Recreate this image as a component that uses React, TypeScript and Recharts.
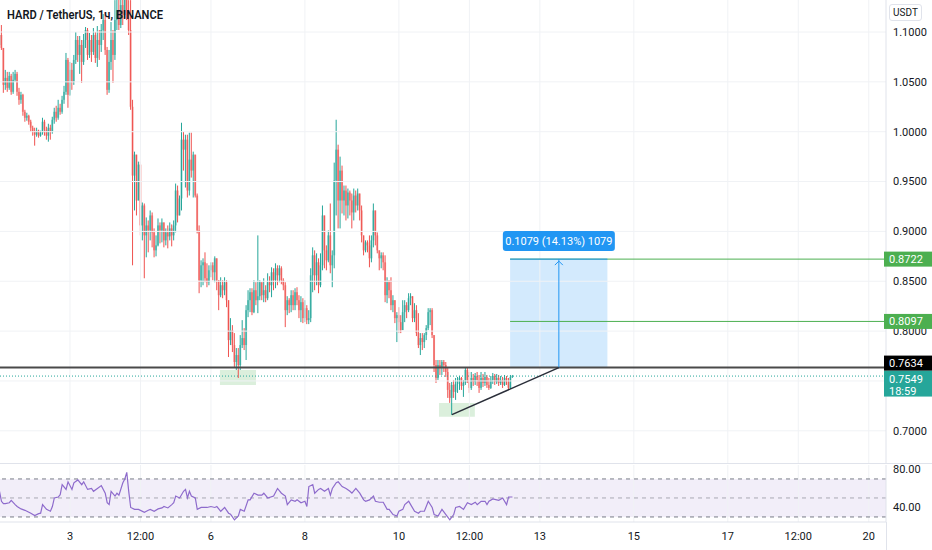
import React from 'react';
import {
  Bar,
  ComposedChart,
  Line,
  LineChart,
  ReferenceArea,
  ReferenceDot,
  ReferenceLine,
  XAxis,
  YAxis,
} from 'recharts';

const FONT = 'Roboto, "Noto Sans", sans-serif';
const UP = '#26a69a';
const DOWN = '#ef5350';
const TEXT = '#131722';
const GRID = '#f0f2f5';
const BORDER = '#e0e3eb';

// x is in hours counted from the 3rd 00:00; the first visible 1h candle opens on the 1st at 12:00
const FIRST_HOUR = -36;
const FIRST_OPEN = 1.087;

const closes = [
  1.097, 1.084, 1.047, 1.054, 1.044, 1.056, 1.04, 1.052, 1.058, 1.04,
  1.032, 1.037, 1.02, 1.014, 1.016, 1.01, 1.004, 1.0, 0.997, 1.001,
  0.996, 0.999, 1.01, 1.002, 0.996, 1.004, 1.0, 1.012, 1.02, 1.014,
  1.024, 1.02, 1.032, 1.04, 1.072, 1.037, 1.062, 1.05, 1.072, 1.092,
  1.077, 1.087, 1.07, 1.092, 1.102, 1.077, 1.092, 1.08, 1.097, 1.074,
  1.092, 1.087, 1.102, 1.112, 1.082, 1.042, 1.07, 1.092, 1.077, 1.112,
  1.122, 1.107, 1.127, 1.117, 1.137, 1.122, 1.102, 1.025, 0.956, 0.977,
  0.931, 0.967, 0.906, 0.926, 0.896, 0.906, 0.901, 0.916, 0.899, 0.881,
  0.886, 0.906, 0.901, 0.909, 0.891, 0.899, 0.895, 0.903, 0.896, 0.906,
  0.941, 0.916, 0.933, 0.992, 0.982, 0.992, 0.941, 0.972, 0.961, 0.977,
  0.936, 0.901, 0.851, 0.866, 0.869, 0.853, 0.849, 0.861, 0.866, 0.859,
  0.873, 0.851, 0.836, 0.846, 0.841, 0.849, 0.831, 0.791, 0.801, 0.786,
  0.769, 0.776, 0.766, 0.786, 0.793, 0.786, 0.821, 0.831, 0.839, 0.819,
  0.841, 0.831, 0.835, 0.849, 0.836, 0.841, 0.833, 0.849, 0.846, 0.859,
  0.851, 0.863, 0.856, 0.863, 0.851, 0.846, 0.821, 0.831, 0.826, 0.836,
  0.826, 0.839, 0.831, 0.821, 0.829, 0.813, 0.823, 0.811, 0.813, 0.856,
  0.876, 0.856, 0.869, 0.846, 0.866, 0.916, 0.881, 0.871, 0.896, 0.866,
  0.876, 0.951, 0.982, 0.931, 0.961, 0.931, 0.941, 0.926, 0.939, 0.931,
  0.919, 0.936, 0.926, 0.938, 0.921, 0.896, 0.881, 0.889, 0.886, 0.873,
  0.891, 0.921, 0.896, 0.881, 0.873, 0.876, 0.869, 0.836, 0.849, 0.841,
  0.826, 0.831, 0.813, 0.816, 0.809, 0.801, 0.819, 0.826, 0.821, 0.833,
  0.835, 0.813, 0.821, 0.798, 0.786, 0.793, 0.789, 0.796, 0.803, 0.819,
  0.821, 0.796, 0.766, 0.753, 0.766, 0.763, 0.769, 0.766, 0.759, 0.741,
  0.733, 0.746, 0.739, 0.747, 0.75, 0.753, 0.745, 0.748, 0.761, 0.751,
  0.743, 0.753, 0.749, 0.755, 0.751, 0.743, 0.753, 0.748, 0.754, 0.746,
  0.743, 0.751, 0.755, 0.749, 0.753, 0.748, 0.751, 0.746, 0.753, 0.749,
  0.743, 0.754, 0.7549,
];

const highs = [
  1.099, 1.107, 1.084, 1.062, 1.06, 1.06, 1.058, 1.06, 1.062, 1.06,
  1.044, 1.04, 1.038, 1.022, 1.019, 1.017, 1.012, 1.006, 1.004, 1.004,
  1.002, 1.001, 1.014, 1.012, 1.005, 1.008, 1.007, 1.015, 1.024, 1.026,
  1.032, 1.028, 1.036, 1.046, 1.079, 1.074, 1.07, 1.069, 1.077, 1.1,
  1.096, 1.096, 1.092, 1.098, 1.105, 1.104, 1.099, 1.097, 1.104, 1.1,
  1.106, 1.102, 1.108, 1.118, 1.12, 1.085, 1.082, 1.11, 1.102, 1.132,
  1.142, 1.137, 1.147, 1.137, 1.152, 1.142, 1.132, 1.132, 1.032, 0.98,
  0.969, 0.97, 0.97, 0.929, 0.928, 0.914, 0.911, 0.921, 0.919, 0.903,
  0.896, 0.913, 0.909, 0.913, 0.903, 0.903, 0.906, 0.909, 0.907, 0.911,
  0.948, 0.946, 0.936, 1.009, 1.0, 0.997, 0.997, 0.999, 0.999, 0.98,
  0.959, 0.938, 0.906, 0.871, 0.873, 0.879, 0.868, 0.866, 0.869, 0.869,
  0.875, 0.873, 0.851, 0.854, 0.851, 0.854, 0.851, 0.831, 0.813, 0.806,
  0.798, 0.783, 0.783, 0.796, 0.811, 0.803, 0.826, 0.841, 0.843, 0.843,
  0.851, 0.849, 0.896, 0.851, 0.848, 0.853, 0.846, 0.858, 0.855, 0.864,
  0.863, 0.868, 0.866, 0.866, 0.865, 0.853, 0.849, 0.835, 0.833, 0.841,
  0.841, 0.843, 0.844, 0.836, 0.835, 0.833, 0.831, 0.826, 0.821, 0.863,
  0.884, 0.881, 0.878, 0.873, 0.878, 0.926, 0.889, 0.886, 0.901, 0.928,
  0.881, 0.969, 1.012, 0.987, 0.975, 0.966, 0.946, 0.946, 0.943, 0.941,
  0.938, 0.943, 0.941, 0.943, 0.936, 0.926, 0.896, 0.891, 0.891, 0.896,
  0.896, 0.928, 0.914, 0.899, 0.881, 0.879, 0.879, 0.876, 0.854, 0.851,
  0.854, 0.836, 0.831, 0.819, 0.824, 0.816, 0.831, 0.831, 0.829, 0.838,
  0.838, 0.835, 0.828, 0.826, 0.818, 0.798, 0.798, 0.798, 0.806, 0.823,
  0.823, 0.823, 0.796, 0.771, 0.771, 0.771, 0.771, 0.771, 0.769, 0.764,
  0.748, 0.749, 0.751, 0.753, 0.754, 0.755, 0.754, 0.751, 0.764, 0.763,
  0.759, 0.759, 0.757, 0.758, 0.759, 0.756, 0.759, 0.757, 0.759, 0.756,
  0.753, 0.755, 0.758, 0.757, 0.757, 0.756, 0.755, 0.754, 0.756, 0.755,
  0.753, 0.756, 0.756,
];

const lows = [
  1.085, 1.082, 1.039, 1.042, 1.04, 1.042, 1.037, 1.038, 1.05, 1.036,
  1.027, 1.028, 1.016, 1.01, 1.011, 1.007, 1.0, 0.996, 0.986, 0.995,
  0.994, 0.995, 0.997, 0.996, 0.992, 0.99, 0.992, 0.998, 1.008, 1.01,
  1.012, 1.017, 1.018, 1.028, 1.037, 1.024, 1.036, 1.042, 1.047, 1.068,
  1.07, 1.058, 1.049, 1.067, 1.084, 1.072, 1.074, 1.07, 1.077, 1.069,
  1.065, 1.072, 1.08, 1.092, 1.077, 1.037, 1.039, 1.062, 1.049, 1.072,
  1.102, 1.102, 1.104, 1.107, 1.114, 1.112, 1.097, 1.022, 0.866, 0.921,
  0.916, 0.931, 0.896, 0.891, 0.853, 0.874, 0.879, 0.891, 0.884, 0.874,
  0.875, 0.885, 0.888, 0.889, 0.884, 0.886, 0.883, 0.891, 0.885, 0.891,
  0.899, 0.909, 0.918, 0.921, 0.961, 0.944, 0.934, 0.936, 0.954, 0.934,
  0.934, 0.898, 0.838, 0.844, 0.846, 0.849, 0.844, 0.846, 0.854, 0.851,
  0.849, 0.841, 0.821, 0.834, 0.833, 0.836, 0.824, 0.774, 0.786, 0.779,
  0.764, 0.761, 0.753, 0.761, 0.783, 0.781, 0.771, 0.814, 0.819, 0.816,
  0.818, 0.826, 0.818, 0.831, 0.831, 0.829, 0.829, 0.831, 0.839, 0.834,
  0.841, 0.843, 0.846, 0.849, 0.847, 0.841, 0.804, 0.816, 0.818, 0.819,
  0.821, 0.821, 0.826, 0.813, 0.809, 0.808, 0.809, 0.807, 0.807, 0.809,
  0.839, 0.841, 0.846, 0.838, 0.844, 0.861, 0.863, 0.861, 0.869, 0.858,
  0.844, 0.863, 0.916, 0.903, 0.903, 0.918, 0.916, 0.911, 0.913, 0.916,
  0.903, 0.911, 0.919, 0.921, 0.911, 0.889, 0.876, 0.879, 0.879, 0.864,
  0.869, 0.884, 0.886, 0.878, 0.861, 0.863, 0.861, 0.829, 0.828, 0.833,
  0.821, 0.819, 0.808, 0.789, 0.798, 0.798, 0.801, 0.809, 0.813, 0.819,
  0.826, 0.809, 0.809, 0.795, 0.783, 0.776, 0.781, 0.783, 0.791, 0.801,
  0.806, 0.793, 0.759, 0.748, 0.751, 0.756, 0.756, 0.759, 0.754, 0.733,
  0.728, 0.716, 0.733, 0.731, 0.738, 0.741, 0.741, 0.734, 0.746, 0.748,
  0.738, 0.741, 0.745, 0.746, 0.745, 0.738, 0.741, 0.744, 0.745, 0.743,
  0.741, 0.742, 0.747, 0.746, 0.747, 0.745, 0.746, 0.743, 0.745, 0.746,
  0.741, 0.742, 0.753,
];

const rsiIdx = [
  0, 1, 2, 3, 5, 6, 8, 9, 11, 13, 15, 16, 18, 20, 21, 22, 24, 26, 27, 28,
  30, 31, 32, 34, 35, 37, 38, 40, 42, 43, 45, 47, 48, 50, 52, 54, 55, 56, 57, 59,
  60, 61, 63, 64, 65, 66, 67, 69, 71, 74, 76, 77, 79, 81, 83, 84, 86, 88, 89, 90,
  92, 94, 95, 96, 97, 98, 100, 101, 103, 106, 108, 110, 111, 113, 115, 117, 118, 120, 122, 123,
  125, 127, 128, 130, 132, 134, 135, 137, 140, 142, 144, 146, 147, 149, 151, 152, 154, 156, 157, 158,
  160, 161, 163, 164, 166, 168, 169, 170, 172, 173, 175, 177, 179, 180, 182, 184, 186, 187, 189, 191,
  192, 194, 196, 198, 199, 201, 203, 204, 206, 207, 209, 210, 212, 214, 215, 217, 219, 221, 222, 224,
  226, 228, 230, 232, 233, 235, 237, 239, 241, 243, 244, 246, 248, 249, 250, 252, 254, 255, 257, 259,
  260, 262,
];
const rsiVal = [
  57, 46.5, 44, 44, 45, 47.5, 43, 41, 38.5, 37, 35, 34, 31.5, 33.5, 34, 43, 38, 36, 41, 50,
  51, 53.5, 64, 59, 67, 59, 66, 69, 64, 67, 59, 60, 57, 60, 63, 55, 45, 43, 57, 52,
  55, 53, 66, 70, 77, 57, 40, 38, 38, 35, 37, 38, 36, 38.5, 39.5, 41, 39.5, 43, 45, 52,
  50, 57, 59, 50, 57, 52, 50, 38, 40, 40, 41, 40, 41, 36, 40, 34, 33, 27, 31, 38,
  36, 48, 48, 55, 53, 53, 55, 50, 52, 60, 55, 52, 43, 48, 46.5, 48, 45, 46.5, 41, 62,
  64, 55, 59, 60, 57, 60, 53, 60, 66, 67, 62, 60, 57, 55, 60, 55, 48, 46.5, 48, 52,
  46.5, 45.5, 45.5, 38, 38, 32.5, 31, 36, 38, 43, 46.5, 43, 36, 34, 36, 36, 46.5, 40, 32.5, 31,
  38, 32.5, 27, 32.5, 40, 41, 38, 45, 43, 45.5, 43, 46.5, 46.5, 43, 46.5, 49, 48, 47.5, 50, 43,
  51, 51,
];

const timeTicks = [0, 36, 72, 120, 168, 204, 240, 288, 336, 372, 408];
const timeLabels = ['3', '12:00', '6', '8', '10', '12:00', '13', '15', '17', '12:00', '20'];
const priceTicks = [0.7, 0.8, 0.85, 0.9, 0.95, 1.0, 1.05, 1.1];
const priceGrid = [0.7, 0.75, 0.8, 0.85, 0.9, 0.95, 1.0, 1.05, 1.1];

const TARGET = 0.8722;
const TARGET_2 = 0.8097;
const ENTRY = 0.7634;
const LAST = 0.7549;
const BOX_FROM = 224.8;
const BOX_TO = 274.5;
const ARROW_AT = 249.7;
const TREND_START = { x: 195.1, y: 0.7162 };
const ZONE_1 = { x1: 76.6, x2: 95, y1: 0.746, y2: 0.761 };
const ZONE_2 = { x1: 188.5, x2: 206.8, y1: 0.714, y2: 0.728 };

const X_DOMAIN: [number, number] = [-35.75, 416.8];
const PRICE_DOMAIN: [number, number] = [0.6677, 1.1321];
const RSI_DOMAIN: [number, number] = [24.7, 84.7];

const tags = [
  { value: TARGET, bg: '#4caf50', shift: 0 },
  { value: TARGET_2, bg: '#4caf50', shift: 0 },
  { value: ENTRY, bg: '#000000', shift: -4.5 },
  { value: LAST, bg: UP, shift: 0, sub: '18:59' },
];

const candles = closes.map((close, i) => {
  const open = i ? closes[i - 1] : FIRST_OPEN;
  const hi = Math.max(highs[i], open, close);
  const lo = Math.min(lows[i], open, close);
  return { h: FIRST_HOUR + i, open, close, hi, lo, range: [lo, hi] };
});

const rsiData = rsiIdx.map((idx, i) => ({ h: FIRST_HOUR + idx, rsi: rsiVal[i] }));

function Candle(props: any) {
  const { x, y, width, height, payload } = props;
  if (!payload || x == null || y == null) return null;
  const top = Math.min(y, y + height);
  const span = Math.abs(height);
  const { open, close, hi, lo } = payload;
  const toY = (v: number) => top + (hi === lo ? 0 : ((hi - v) / (hi - lo)) * span);
  const cx = x + width / 2;
  const color = close >= open ? UP : DOWN;
  const b1 = toY(Math.max(open, close));
  const b2 = toY(Math.min(open, close));
  return (
    <g>
      <rect x={cx - 1} y={b1} width={2} height={Math.max(b2 - b1, 1)} fill={color} fillOpacity={0.55} />
      <rect x={cx - 0.5} y={top} width={1} height={Math.max(span, 1)} fill={color} />
    </g>
  );
}

function PriceTick(props: any) {
  const { x, y, payload } = props;
  const v = payload.value as number;
  const tag = tags.find((t) => Math.abs(t.value - v) < 1e-9);
  if (!tag) {
    return (
      <text x={x} y={y} dy="0.35em" fill={TEXT} fontSize={11}>
        {v.toFixed(4)}
      </text>
    );
  }
  const cy = y + tag.shift;
  if (tag.sub) {
    return (
      <g>
        <rect x={x - 9} y={cy - 5.5} width={48} height={26} fill={tag.bg} />
        <text x={x - 4} y={cy + 3} dy="0.35em" fill="#fff" fontSize={11}>
          {v.toFixed(4)}
        </text>
        <text x={x - 4} y={cy + 15} dy="0.35em" fill="#fff" fontSize={11}>
          {tag.sub}
        </text>
      </g>
    );
  }
  return (
    <g>
      <rect x={x - 9} y={cy - 7.5} width={48} height={15} fill={tag.bg} />
      <text x={x - 4} y={cy} dy="0.35em" fill="#fff" fontSize={11}>
        {v.toFixed(4)}
      </text>
    </g>
  );
}

function MeasureMark(props: any) {
  const { cx, cy } = props;
  if (cx == null || cy == null) return null;
  return (
    <g>
      <polyline
        points={`${cx - 4},${cy + 6} ${cx},${cy + 2} ${cx + 4},${cy + 6}`}
        fill="none"
        stroke="#2196f3"
        strokeWidth={1}
      />
      <rect x={cx - 56} y={cy - 28} width={112} height={20} rx={3} fill="#2196f3" />
      <text x={cx} y={cy - 18} dy="0.35em" textAnchor="middle" fill="#fff" fontSize={11}>
        0.1079 (14.13%) 1079
      </text>
    </g>
  );
}

export default function App() {
  return (
    <div
      style={{
        position: 'fixed',
        left: 0,
        top: 0,
        width: 932,
        height: 550,
        background: '#fff',
        fontFamily: FONT,
        overflow: 'hidden',
      }}
    >
      <div style={{ position: 'absolute', left: 0, top: 0 }}>
        <ComposedChart
          width={932}
          height={463}
          data={candles}
          margin={{ top: 0, right: 0, bottom: 0, left: 0 }}
        >
          <XAxis type="number" dataKey="h" domain={X_DOMAIN} allowDataOverflow hide />
          <YAxis
            orientation="right"
            width={46}
            type="number"
            domain={PRICE_DOMAIN}
            allowDataOverflow
            ticks={[...priceTicks, LAST, ENTRY, TARGET_2, TARGET]}
            interval={0}
            tickLine={false}
            tickSize={6}
            tickMargin={1}
            axisLine={{ stroke: BORDER }}
            tick={<PriceTick />}
          />
          {timeTicks.map((t) => (
            <ReferenceLine key={`v${t}`} x={t} stroke={GRID} />
          ))}
          {priceGrid.map((p) => (
            <ReferenceLine key={`h${p}`} y={p} stroke={GRID} />
          ))}
          <ReferenceArea {...ZONE_1} fill="#4caf50" fillOpacity={0.2} />
          <ReferenceArea {...ZONE_2} fill="#4caf50" fillOpacity={0.2} />
          <ReferenceArea x1={BOX_FROM} x2={BOX_TO} y1={ENTRY} y2={TARGET} fill="#2196f3" fillOpacity={0.2} />
          <Bar
            dataKey="range"
            barSize={2}
            isAnimationActive={false}
            shape={(p: any) => <Candle {...p} />}
          />
          <ReferenceLine y={LAST} stroke={UP} strokeDasharray="1 2" />
          <ReferenceLine y={ENTRY} stroke="#4a4a4a" strokeWidth={2} />
          <ReferenceLine
            segment={[{ x: BOX_FROM, y: TARGET }, { x: X_DOMAIN[1], y: TARGET }]}
            stroke="#4caf50"
          />
          <ReferenceLine
            segment={[{ x: BOX_FROM, y: TARGET_2 }, { x: X_DOMAIN[1], y: TARGET_2 }]}
            stroke="#4caf50"
          />
          <ReferenceLine
            segment={[{ x: BOX_FROM, y: TARGET }, { x: BOX_TO, y: TARGET }]}
            stroke="#2196f3"
          />
          <ReferenceLine
            segment={[{ x: ARROW_AT, y: ENTRY }, { x: ARROW_AT, y: TARGET }]}
            stroke="#2196f3"
          />
          <ReferenceLine
            segment={[TREND_START, { x: ARROW_AT, y: ENTRY }]}
            stroke="#2a2e39"
            strokeWidth={1.5}
          />
          <ReferenceDot x={ARROW_AT} y={TARGET} r={0} shape={(p: any) => <MeasureMark {...p} />} />
        </ComposedChart>
      </div>

      <div style={{ position: 'absolute', left: 0, top: 463, width: 932, height: 1, background: BORDER }} />

      <div style={{ position: 'absolute', left: 0, top: 464 }}>
        <LineChart width={932} height={86} data={rsiData} margin={{ top: 1, right: 0, bottom: 0, left: 0 }}>
          <XAxis
            type="number"
            dataKey="h"
            domain={X_DOMAIN}
            allowDataOverflow
            ticks={timeTicks}
            interval={0}
            tickFormatter={(v: number) => timeLabels[timeTicks.indexOf(v)] ?? ''}
            tickLine={false}
            tickMargin={4}
            height={28}
            axisLine={{ stroke: BORDER }}
            tick={{ fill: TEXT, fontSize: 11 }}
          />
          <YAxis
            orientation="right"
            width={46}
            type="number"
            domain={RSI_DOMAIN}
            allowDataOverflow
            ticks={[40, 80]}
            interval={0}
            tickFormatter={(v: number) => v.toFixed(2)}
            tickLine={false}
            tickSize={6}
            tickMargin={1}
            axisLine={{ stroke: BORDER }}
            tick={{ fill: TEXT, fontSize: 11, textAnchor: 'start' }}
          />
          {timeTicks.map((t) => (
            <ReferenceLine key={`rv${t}`} x={t} stroke={GRID} />
          ))}
          <ReferenceArea y1={30} y2={70} fill="#7e57c2" fillOpacity={0.1} />
          <ReferenceLine y={70} stroke="#787b86" strokeDasharray="4 4" />
          <ReferenceLine y={50} stroke="#787b86" strokeOpacity={0.6} strokeDasharray="4 4" />
          <ReferenceLine y={30} stroke="#787b86" strokeDasharray="4 4" />
          <Line
            type="linear"
            dataKey="rsi"
            stroke="#8e6bcc"
            strokeWidth={1.2}
            dot={false}
            isAnimationActive={false}
          />
        </LineChart>
      </div>

      <div style={{ position: 'absolute', left: 886, top: 522, width: 1, height: 28, background: BORDER }} />

      <svg width={200} height={26} style={{ position: 'absolute', left: 0, top: 0 }}>
        <text
          x={7}
          y={18.5}
          textLength={156}
          lengthAdjust="spacingAndGlyphs"
          fontSize={12.5}
          fontWeight={600}
          fill={TEXT}
        >
          HARD / TetherUS, 1ч, BINANCE
        </text>
      </svg>
      <div
        style={{
          position: 'absolute',
          left: 889,
          top: 4,
          width: 31,
          height: 15,
          border: `1px solid ${BORDER}`,
          borderRadius: 3,
          fontSize: 10,
          lineHeight: '15px',
          textAlign: 'center',
          color: TEXT,
        }}
      >
        USDT
      </div>
    </div>
  );
}
